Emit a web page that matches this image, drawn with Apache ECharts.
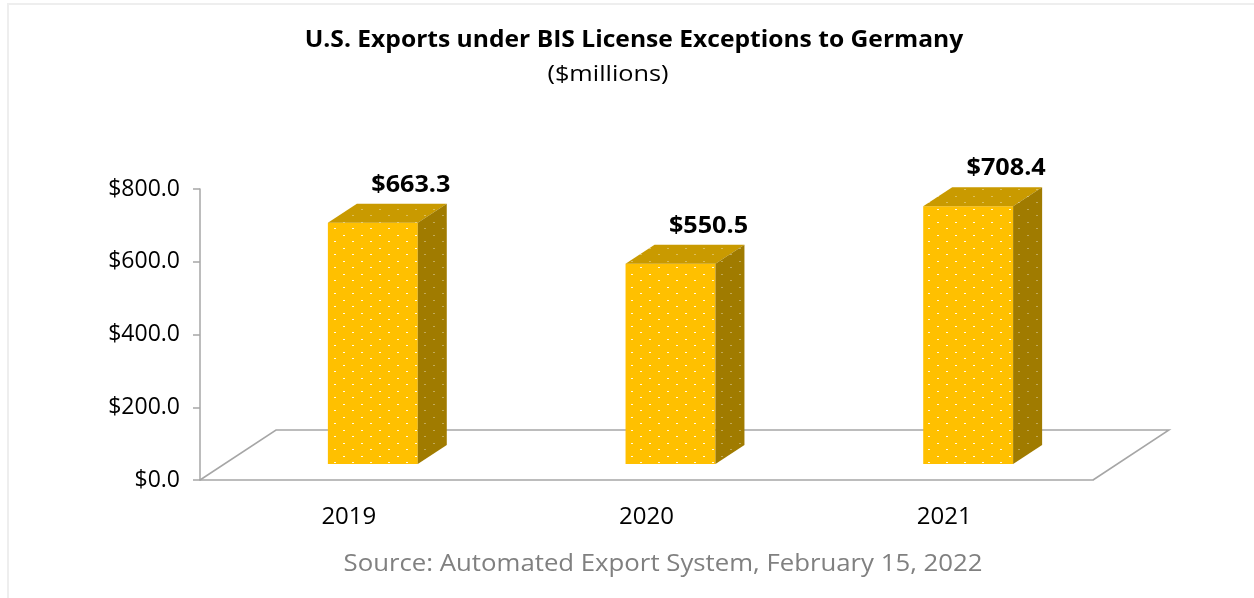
<!DOCTYPE html>
<html>
<head>
<meta charset="utf-8">
<script src="https://cdn.jsdelivr.net/npm/echarts@6/dist/echarts.min.js"></script>
<style>
  html, body { margin: 0; padding: 0; background: #fff; }
  #chart { width: 1254px; height: 598px; }
</style>
</head>
<body>
<div id="chart"></div>
<script>
// data
const years = ['2019', '2020', '2021']
const exportValues = [663.3, 550.5, 708.4]
const yMax = 800
const yStep = 200

const FONT = '"Open Sans"'

// dotted fill like the Excel pattern
function makePattern(base, dot) {
  const c = document.createElement('canvas')
  c.width = 18
  c.height = 13
  const ctx = c.getContext('2d')
  ctx.fillStyle = base
  ctx.fillRect(0, 0, 18, 13)
  ctx.fillStyle = dot
  ctx.fillRect(1, 1, 2, 1)
  ctx.fillRect(10, 7, 2, 1)
  return { image: c, repeat: 'repeat' }
}
const frontFill = makePattern('#ffc000', 'rgba(255,255,255,0.9)')
const topFill = makePattern('#c99a00', 'rgba(255,255,255,0.35)')
const sideFill = makePattern('#a07b00', 'rgba(255,255,255,0.35)')

// 3d offsets
const floorDx = 76, floorDy = -50
const barShiftX = 24, barShiftY = -16
const barDx = 29, barDy = -19

function renderBar(params, api) {
  const cs = params.coordSys
  const band = api.size([1, 0])[0]
  const base = api.coord([api.value(0), 0])
  const top = api.coord([api.value(0), api.value(1)])
  const w = band * 0.302
  const x0 = base[0] - w / 2 + barShiftX
  const x1 = x0 + w
  const yb = base[1] + barShiftY
  const yt = top[1] + barShiftY
  const children = []
  if (params.dataIndex === 0) {
    const fy = cs.y + cs.height
    children.push({
      type: 'polyline',
      shape: {
        points: [
          [cs.x, fy],
          [cs.x + floorDx, fy + floorDy],
          [cs.x + cs.width + floorDx, fy + floorDy],
          [cs.x + cs.width, fy]
        ]
      },
      style: { stroke: '#a6a6a6', lineWidth: 1.5, fill: null }
    })
  }
  children.push({
    type: 'rect',
    shape: { x: x0, y: yt, width: w, height: yb - yt },
    style: { fill: frontFill }
  })
  children.push({
    type: 'polygon',
    shape: { points: [[x0, yt], [x1, yt], [x1 + barDx, yt + barDy], [x0 + barDx, yt + barDy]] },
    style: { fill: topFill }
  })
  children.push({
    type: 'polygon',
    shape: { points: [[x1, yt], [x1 + barDx, yt + barDy], [x1 + barDx, yb + barDy], [x1, yb]] },
    style: { fill: sideFill }
  })
  children.push({
    type: 'text',
    x: x0 + w / 2 + 38,
    y: yt + barDy - 19,
    scaleX: 1.05,
    style: {
      text: '$' + api.value(1).toFixed(1),
      align: 'center',
      verticalAlign: 'middle',
      fontFamily: FONT,
      fontWeight: 'bold',
      fontSize: 24,
      fill: '#000'
    }
  })
  return { type: 'group', children }
}

function label(text, x, y, size, weight, color, sx) {
  return {
    type: 'text',
    x: x,
    y: y,
    scaleX: sx,
    style: {
      text: text,
      align: 'center',
      verticalAlign: 'middle',
      fontFamily: FONT,
      fontSize: size,
      fontWeight: weight,
      fill: color
    }
  }
}

const chart = echarts.init(document.getElementById('chart'))
chart.setOption({
  backgroundColor: '#fff',
  animation: false,
  graphic: [
    { type: 'rect', shape: { x: 7, y: 3, width: 1247, height: 2 }, style: { fill: '#eeeeee' } },
    { type: 'rect', shape: { x: 7, y: 3, width: 2, height: 595 }, style: { fill: '#eeeeee' } },
    label('U.S. Exports under BIS License Exceptions to Germany', 634, 40, 23, 'bold', '#000', 1.07),
    label('($millions)', 608, 75, 22, 'normal', '#000', 1.15),
    label('Source: Automated Export System, February 15, 2022', 663, 564, 23, 'normal', '#808080', 1.12)
  ],
  grid: { left: 200, right: 161, top: 189, bottom: 118 },
  xAxis: {
    type: 'category',
    data: years,
    axisLine: { lineStyle: { color: '#a6a6a6', width: 1.5 } },
    axisTick: { length: 8, lineStyle: { color: '#a6a6a6', width: 1.5 } },
    axisLabel: { margin: 25, fontFamily: FONT, fontSize: 24, color: '#000' }
  },
  yAxis: {
    type: 'value',
    min: 0,
    max: yMax,
    interval: yStep,
    splitLine: { show: false },
    axisLine: { show: true, lineStyle: { color: '#a6a6a6', width: 1.5 } },
    axisTick: { show: true, length: 7, lineStyle: { color: '#a6a6a6', width: 1.5 } },
    axisLabel: {
      margin: 20,
      fontFamily: FONT,
      fontSize: 23,
      color: '#000',
      formatter: v => '$' + v.toFixed(1)
    }
  },
  series: [
    {
      type: 'custom',
      renderItem: renderBar,
      encode: { x: 0, y: 1 },
      data: years.map((y, i) => [i, exportValues[i]])
    }
  ]
})
</script>
</body>
</html>
